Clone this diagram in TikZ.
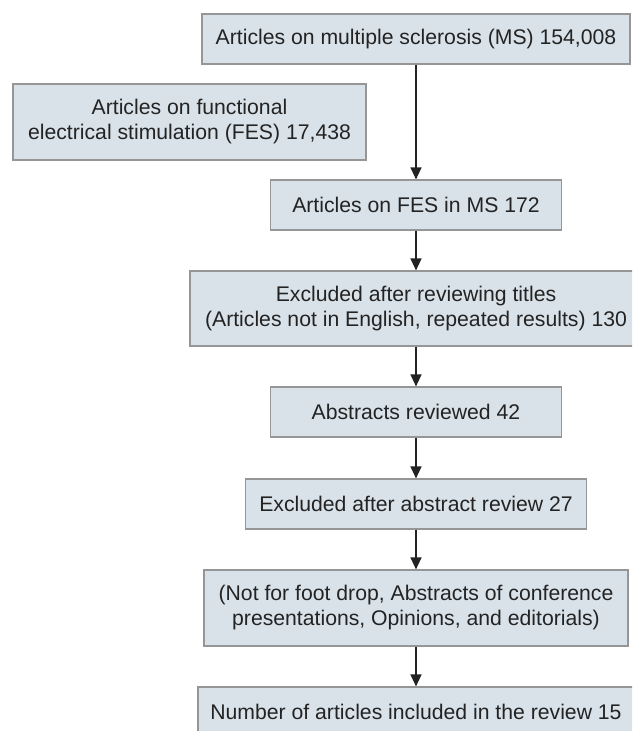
\documentclass[tikz,border=0pt]{standalone}
\usepackage{fontspec}
\setmainfont{Liberation Sans}
\usetikzlibrary{arrows.meta}
\definecolor{boxfill}{RGB}{217,226,233}
\definecolor{boxline}{RGB}{150,150,150}
\definecolor{ink}{RGB}{35,35,35}
\begin{document}
\begin{tikzpicture}[x=1pt, y=-1pt, every node/.style={font=\fontsize{21.2}{25}\selectfont, text=ink},
  stage/.style={draw=boxline, line width=1.2pt, fill=boxfill, align=center, inner sep=0pt, minimum height=50pt},
  flow/.style={-{Triangle[width=11pt,length=12pt]}, line width=1.4pt, draw=ink}]
\useasboundingbox (0,0) rectangle (632,731);
\clip (0,0) rectangle (632,731);
% search results
\node[stage, minimum width=428pt] (ms) at (416,39) {Articles on multiple sclerosis (MS) 154,008};
\node[stage, minimum width=353pt, minimum height=76pt] (fes) at (189.5,122) {Articles on functional\\electrical stimulation (FES) 17,438};
\node[stage, minimum width=291pt] (fesms) at (416,205) {Articles on FES in MS 172};
% screening
\node[stage, minimum width=452pt, minimum height=75pt] (titles) at (416,308.5) {Excluded after reviewing titles\\(Articles not in English, repeated results) 130};
\node[stage, minimum width=291pt] (abstracts) at (416,412) {Abstracts reviewed 42};
\node[stage, minimum width=341pt] (exclabs) at (416,504) {Excluded after abstract review 27};
\node[stage, minimum width=424pt, minimum height=76pt] (reasons) at (416,608) {(Not for foot drop, Abstracts of conference\\presentations, Opinions, and editorials)};
\node[stage, minimum width=436pt] (included) at (416,712) {Number of articles included in the review 15};
% arrows
\draw[flow] (ms) -- (fesms);
\draw[flow] (fesms) -- (titles);
\draw[flow] (titles) -- (abstracts);
\draw[flow] (abstracts) -- (exclabs);
\draw[flow] (exclabs) -- (reasons);
\draw[flow] (reasons) -- (included);
\end{tikzpicture}
\end{document}
